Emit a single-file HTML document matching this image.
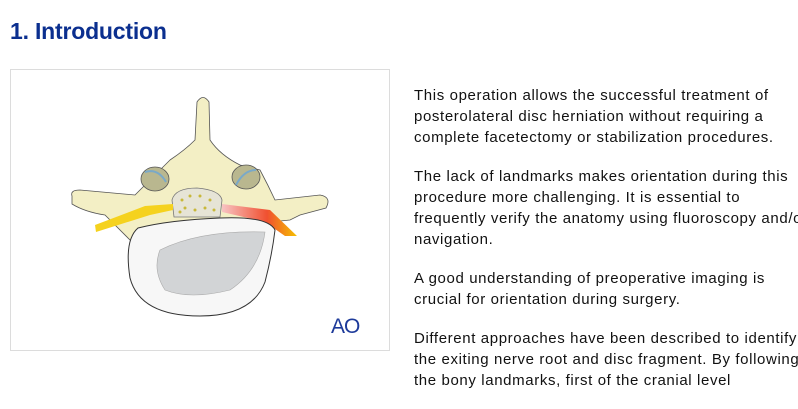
<!DOCTYPE html>
<html><head><style>
body{margin:0;width:798px;height:401px;overflow:hidden;background:#fff;font-family:"Liberation Sans",sans-serif;}
h1{position:absolute;left:10px;top:18px;margin:0;font-size:23px;font-weight:bold;color:#0b2f8f;letter-spacing:-0.2px;}
.box{position:absolute;left:10px;top:69px;width:378px;height:280px;border:1px solid #dcdcdc;}
.txt{position:absolute;left:414px;top:85px;width:400px;font-size:15px;line-height:21px;color:#111;white-space:nowrap;letter-spacing:0.62px;}
.txt p{margin:0 0 18px 0;}
</style></head><body>
<h1>1. Introduction</h1>
<div class="box"></div>
<svg style="position:absolute;left:0;top:0" width="400" height="401">
<defs>
<linearGradient id="red" x1="0" x2="1"><stop offset="0" stop-color="#f7c4c4"/><stop offset="0.6" stop-color="#f05030"/><stop offset="1" stop-color="#f6c000"/></linearGradient>
</defs>
<path d="M72,196 Q70,190 80,190 L135,195 L170,160 Q185,150 195,140 L197,102 Q203,93 209,102 L210,140 Q220,155 240,165 L260,170 Q268,185 275,200 L320,195 Q332,197 326,208 L300,215 L290,220 L240,225 L170,225 L130,240 L105,215 Q85,212 72,204 Z" fill="#f3efc5" stroke="#555" stroke-width="0.8"/>
<ellipse cx="155" cy="179" rx="14" ry="12" fill="#b9b78f" stroke="#555" stroke-width="0.8"/>
<path d="M145,172 Q158,168 166,182" stroke="#7aa9c8" stroke-width="2" fill="none"/>
<ellipse cx="246" cy="177" rx="14" ry="12" fill="#b9b78f" stroke="#555" stroke-width="0.8"/>
<path d="M236,185 Q244,170 256,170" stroke="#7aa9c8" stroke-width="2" fill="none"/>
<path d="M172,200 Q175,188 197,188 Q220,190 222,200 L220,217 L174,217 Z" fill="#e6e4d6" stroke="#777" stroke-width="0.8"/>
<g fill="#c8b83a"><circle cx="182" cy="200" r="1.5"/><circle cx="190" cy="196" r="1.5"/><circle cx="200" cy="196" r="1.5"/><circle cx="210" cy="200" r="1.5"/><circle cx="185" cy="208" r="1.5"/><circle cx="195" cy="210" r="1.5"/><circle cx="205" cy="208" r="1.5"/><circle cx="214" cy="210" r="1.5"/><circle cx="180" cy="212" r="1.5"/></g>
<path d="M95,225 L96,232 L150,215 L173,210 L173,204 L145,206 Z" fill="#f5d21e"/>
<path d="M222,204 L270,210 L297,236 L285,236 L265,222 L222,212 Z" fill="url(#red)"/>
<path d="M138,228 Q170,220 220,218 Q268,216 275,230 Q272,255 265,282 Q252,316 200,316 Q140,316 130,278 Q124,240 138,228 Z" fill="#f7f7f7" stroke="#333" stroke-width="1"/>
<path d="M160,250 Q200,230 265,232 Q260,270 230,290 Q190,300 165,290 Q152,270 160,250 Z" fill="#d2d4d6" stroke="#aaa" stroke-width="0.6"/>
<text x="331" y="333" font-family="Liberation Sans,sans-serif" font-size="21" fill="#1d3a9a" letter-spacing="-1">AO</text>
</svg>
<div class="txt">
<p>This operation allows the successful treatment of<br>posterolateral disc herniation without requiring a<br>complete facetectomy or stabilization procedures.</p>
<p>The lack of landmarks makes orientation during this<br>procedure more challenging. It is essential to<br>frequently verify the anatomy using fluoroscopy and/or<br>navigation.</p>
<p>A good understanding of preoperative imaging is<br>crucial for orientation during surgery.</p>
<p>Different approaches have been described to identify<br>the exiting nerve root and disc fragment. By following<br>the bony landmarks, first of the cranial level</p>
</div>
</body></html>
